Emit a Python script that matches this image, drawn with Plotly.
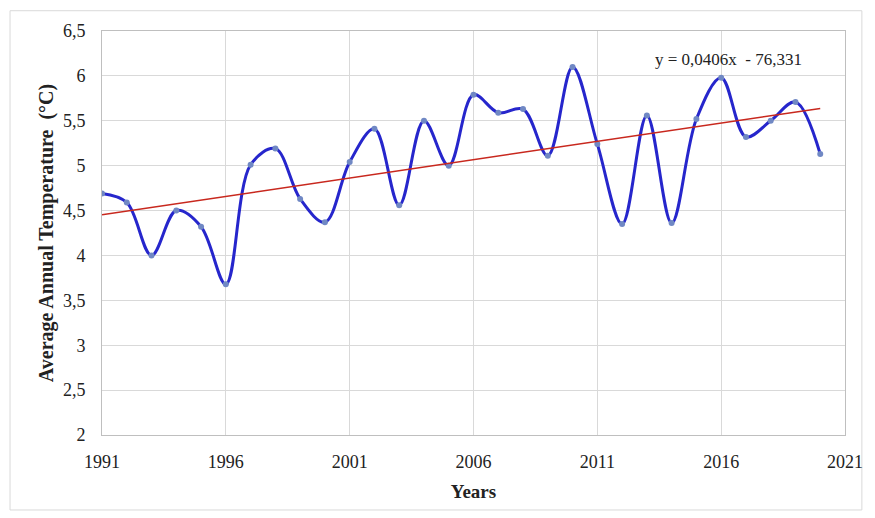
import numpy as np
import plotly.graph_objects as go

years = list(range(1991, 2021))
temps = [4.69, 4.59, 4.00, 4.50, 4.32, 3.68, 5.01, 5.19, 4.63, 4.37,
         5.04, 5.41, 4.56, 5.50, 5.00, 5.79, 5.59, 5.63, 5.11, 6.10,
         5.24, 4.35, 5.56, 4.36, 5.52, 5.98, 5.32, 5.50, 5.71, 5.13]

y_ticks = [2, 2.5, 3, 3.5, 4, 4.5, 5, 5.5, 6, 6.5]
y_tick_labels = ["2", "2,5", "3", "3,5", "4", "4,5", "5", "5,5", "6", "6,5"]
x_ticks = [1991, 1996, 2001, 2006, 2011, 2016, 2021]
x_tick_labels = ["1991", "1996", "2001", "2006", "2011", "2016", "2021"]
equation_text = "y = 0,0406x  - 76,331"

slope, intercept = np.polyfit(years, temps, 1)
trend = [slope * y + intercept for y in years]

font_family = "Liberation Serif, Times New Roman, serif"

fig = go.Figure()
fig.add_trace(go.Scatter(
    x=years, y=temps, mode="lines+markers",
    line=dict(color="#2626cc", width=3, shape="spline", smoothing=1.0),
    marker=dict(color="#7088c4", size=6),
    showlegend=False,
))
fig.add_trace(go.Scatter(
    x=years, y=trend, mode="lines",
    line=dict(color="#c8281e", width=1.5),
    showlegend=False,
))

fig.add_annotation(
    x=2016.3, y=6.18, xref="x", yref="y", text=equation_text,
    showarrow=False, font=dict(family=font_family, size=17, color="#222222"),
)

fig.add_shape(type="rect", xref="paper", yref="paper",
              x0=-0.1238, x1=1.0227, y0=-0.1856, y1=1.0502,
              line=dict(color="#d9d9d9", width=1), layer="below")

fig.update_layout(
    width=867, height=510,
    margin=dict(l=94, r=24, t=23, b=83),
    paper_bgcolor="white", plot_bgcolor="white",
    font=dict(family=font_family, size=17, color="#222222"),
    xaxis=dict(
        range=[1991, 2021], tickvals=x_ticks, ticktext=x_tick_labels,
        showgrid=True, gridcolor="#d9d9d9", gridwidth=1,
        zeroline=False, showline=True, linecolor="#bfbfbf", mirror=True,
        ticks="outside", ticklen=10, tickcolor="rgba(0,0,0,0)",
        tickfont=dict(size=18),
        title=dict(text="<b>Years</b>", font=dict(size=19), standoff=14),
    ),
    yaxis=dict(
        range=[2, 6.5], tickvals=y_ticks, ticktext=y_tick_labels,
        showgrid=True, gridcolor="#d9d9d9", gridwidth=1,
        zeroline=False, showline=True, linecolor="#bfbfbf", mirror=True,
        ticks="outside", ticklen=12, tickcolor="rgba(0,0,0,0)",
        tickfont=dict(size=18),
        title=dict(text="<b>Average Annual Temperature  (°C)</b>", font=dict(size=20), standoff=3),
    ),
)

fig.write_html("out.html")
